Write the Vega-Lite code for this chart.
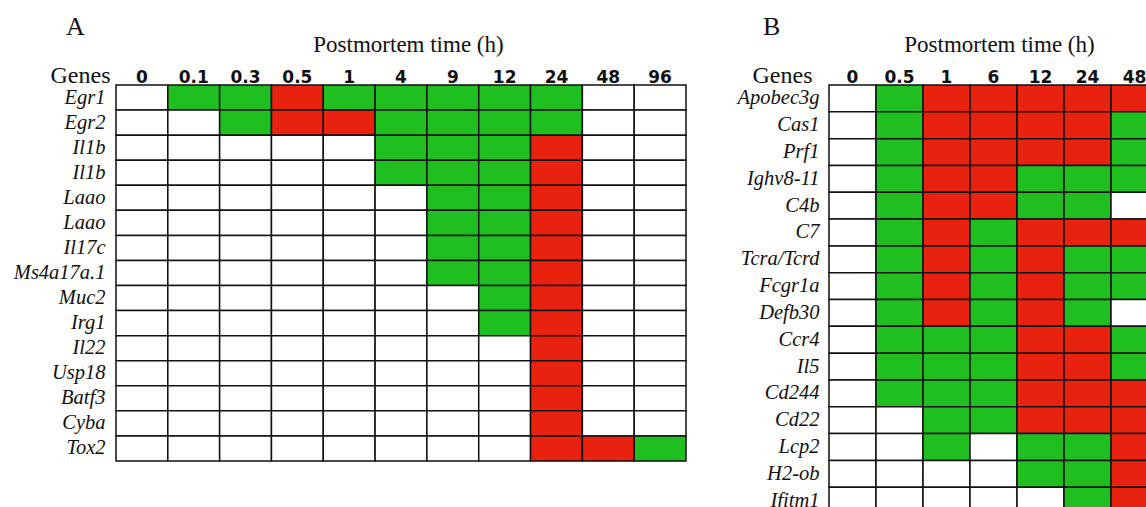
{
  "$schema": "https://vega.github.io/schema/vega-lite/v6.json",
  "background": "white",
  "padding": {"left": 13, "top": 14, "right": 0, "bottom": 0},
  "spacing": 143,
  "bounds": "flush",
  "config": {
    "view": {"stroke": null},
    "rect": {"stroke": "#111111", "strokeWidth": 1.5},
    "title": {"font": "Liberation Serif", "fontSize": 26, "fontWeight": "normal", "color": "#111111", "anchor": "start", "frame": "group", "offset": -7},
    "axis": {
      "domain": false,
      "ticks": false,
      "grid": false,
      "labelColor": "#111111",
      "titleColor": "#111111"
    },
    "axisX": {
      "orient": "top",
      "labelAngle": 0,
      "labelFont": "DejaVu Sans",
      "labelFontWeight": "bold",
      "labelFontSize": 17,
      "labelBaseline": "alphabetic",
      "labelPadding": 3,
      "titleFont": "Liberation Serif",
      "titleFontSize": 23,
      "titleFontWeight": "normal",
      "titlePadding": 12
    },
    "axisY": {
      "labelFont": "Liberation Serif",
      "labelFontStyle": "italic",
      "labelFontSize": 20.5,
      "labelPadding": 11,
      "labelExpr": "split(datum.value, '#')[0]",
      "titleFont": "Liberation Serif",
      "titleFontSize": 24,
      "titleFontWeight": "normal",
      "titleAngle": 0,
      "titleAlign": "right",
      "titleBaseline": "alphabetic",
      "titleY": -3
    }
  },
  "datasets": {
    "panelA": [
      {"gene": "Egr1", "time": "0", "level": 0}, {"gene": "Egr1", "time": "0.1", "level": 1}, {"gene": "Egr1", "time": "0.3", "level": 1}, {"gene": "Egr1", "time": "0.5", "level": 2}, {"gene": "Egr1", "time": "1", "level": 1}, {"gene": "Egr1", "time": "4", "level": 1}, {"gene": "Egr1", "time": "9", "level": 1}, {"gene": "Egr1", "time": "12", "level": 1}, {"gene": "Egr1", "time": "24", "level": 1}, {"gene": "Egr1", "time": "48", "level": 0}, {"gene": "Egr1", "time": "96", "level": 0},
      {"gene": "Egr2", "time": "0", "level": 0}, {"gene": "Egr2", "time": "0.1", "level": 0}, {"gene": "Egr2", "time": "0.3", "level": 1}, {"gene": "Egr2", "time": "0.5", "level": 2}, {"gene": "Egr2", "time": "1", "level": 2}, {"gene": "Egr2", "time": "4", "level": 1}, {"gene": "Egr2", "time": "9", "level": 1}, {"gene": "Egr2", "time": "12", "level": 1}, {"gene": "Egr2", "time": "24", "level": 1}, {"gene": "Egr2", "time": "48", "level": 0}, {"gene": "Egr2", "time": "96", "level": 0},
      {"gene": "Il1b", "time": "0", "level": 0}, {"gene": "Il1b", "time": "0.1", "level": 0}, {"gene": "Il1b", "time": "0.3", "level": 0}, {"gene": "Il1b", "time": "0.5", "level": 0}, {"gene": "Il1b", "time": "1", "level": 0}, {"gene": "Il1b", "time": "4", "level": 1}, {"gene": "Il1b", "time": "9", "level": 1}, {"gene": "Il1b", "time": "12", "level": 1}, {"gene": "Il1b", "time": "24", "level": 2}, {"gene": "Il1b", "time": "48", "level": 0}, {"gene": "Il1b", "time": "96", "level": 0},
      {"gene": "Il1b#2", "time": "0", "level": 0}, {"gene": "Il1b#2", "time": "0.1", "level": 0}, {"gene": "Il1b#2", "time": "0.3", "level": 0}, {"gene": "Il1b#2", "time": "0.5", "level": 0}, {"gene": "Il1b#2", "time": "1", "level": 0}, {"gene": "Il1b#2", "time": "4", "level": 1}, {"gene": "Il1b#2", "time": "9", "level": 1}, {"gene": "Il1b#2", "time": "12", "level": 1}, {"gene": "Il1b#2", "time": "24", "level": 2}, {"gene": "Il1b#2", "time": "48", "level": 0}, {"gene": "Il1b#2", "time": "96", "level": 0},
      {"gene": "Laao", "time": "0", "level": 0}, {"gene": "Laao", "time": "0.1", "level": 0}, {"gene": "Laao", "time": "0.3", "level": 0}, {"gene": "Laao", "time": "0.5", "level": 0}, {"gene": "Laao", "time": "1", "level": 0}, {"gene": "Laao", "time": "4", "level": 0}, {"gene": "Laao", "time": "9", "level": 1}, {"gene": "Laao", "time": "12", "level": 1}, {"gene": "Laao", "time": "24", "level": 2}, {"gene": "Laao", "time": "48", "level": 0}, {"gene": "Laao", "time": "96", "level": 0},
      {"gene": "Laao#2", "time": "0", "level": 0}, {"gene": "Laao#2", "time": "0.1", "level": 0}, {"gene": "Laao#2", "time": "0.3", "level": 0}, {"gene": "Laao#2", "time": "0.5", "level": 0}, {"gene": "Laao#2", "time": "1", "level": 0}, {"gene": "Laao#2", "time": "4", "level": 0}, {"gene": "Laao#2", "time": "9", "level": 1}, {"gene": "Laao#2", "time": "12", "level": 1}, {"gene": "Laao#2", "time": "24", "level": 2}, {"gene": "Laao#2", "time": "48", "level": 0}, {"gene": "Laao#2", "time": "96", "level": 0},
      {"gene": "Il17c", "time": "0", "level": 0}, {"gene": "Il17c", "time": "0.1", "level": 0}, {"gene": "Il17c", "time": "0.3", "level": 0}, {"gene": "Il17c", "time": "0.5", "level": 0}, {"gene": "Il17c", "time": "1", "level": 0}, {"gene": "Il17c", "time": "4", "level": 0}, {"gene": "Il17c", "time": "9", "level": 1}, {"gene": "Il17c", "time": "12", "level": 1}, {"gene": "Il17c", "time": "24", "level": 2}, {"gene": "Il17c", "time": "48", "level": 0}, {"gene": "Il17c", "time": "96", "level": 0},
      {"gene": "Ms4a17a.1", "time": "0", "level": 0}, {"gene": "Ms4a17a.1", "time": "0.1", "level": 0}, {"gene": "Ms4a17a.1", "time": "0.3", "level": 0}, {"gene": "Ms4a17a.1", "time": "0.5", "level": 0}, {"gene": "Ms4a17a.1", "time": "1", "level": 0}, {"gene": "Ms4a17a.1", "time": "4", "level": 0}, {"gene": "Ms4a17a.1", "time": "9", "level": 1}, {"gene": "Ms4a17a.1", "time": "12", "level": 1}, {"gene": "Ms4a17a.1", "time": "24", "level": 2}, {"gene": "Ms4a17a.1", "time": "48", "level": 0}, {"gene": "Ms4a17a.1", "time": "96", "level": 0},
      {"gene": "Muc2", "time": "0", "level": 0}, {"gene": "Muc2", "time": "0.1", "level": 0}, {"gene": "Muc2", "time": "0.3", "level": 0}, {"gene": "Muc2", "time": "0.5", "level": 0}, {"gene": "Muc2", "time": "1", "level": 0}, {"gene": "Muc2", "time": "4", "level": 0}, {"gene": "Muc2", "time": "9", "level": 0}, {"gene": "Muc2", "time": "12", "level": 1}, {"gene": "Muc2", "time": "24", "level": 2}, {"gene": "Muc2", "time": "48", "level": 0}, {"gene": "Muc2", "time": "96", "level": 0},
      {"gene": "Irg1", "time": "0", "level": 0}, {"gene": "Irg1", "time": "0.1", "level": 0}, {"gene": "Irg1", "time": "0.3", "level": 0}, {"gene": "Irg1", "time": "0.5", "level": 0}, {"gene": "Irg1", "time": "1", "level": 0}, {"gene": "Irg1", "time": "4", "level": 0}, {"gene": "Irg1", "time": "9", "level": 0}, {"gene": "Irg1", "time": "12", "level": 1}, {"gene": "Irg1", "time": "24", "level": 2}, {"gene": "Irg1", "time": "48", "level": 0}, {"gene": "Irg1", "time": "96", "level": 0},
      {"gene": "Il22", "time": "0", "level": 0}, {"gene": "Il22", "time": "0.1", "level": 0}, {"gene": "Il22", "time": "0.3", "level": 0}, {"gene": "Il22", "time": "0.5", "level": 0}, {"gene": "Il22", "time": "1", "level": 0}, {"gene": "Il22", "time": "4", "level": 0}, {"gene": "Il22", "time": "9", "level": 0}, {"gene": "Il22", "time": "12", "level": 0}, {"gene": "Il22", "time": "24", "level": 2}, {"gene": "Il22", "time": "48", "level": 0}, {"gene": "Il22", "time": "96", "level": 0},
      {"gene": "Usp18", "time": "0", "level": 0}, {"gene": "Usp18", "time": "0.1", "level": 0}, {"gene": "Usp18", "time": "0.3", "level": 0}, {"gene": "Usp18", "time": "0.5", "level": 0}, {"gene": "Usp18", "time": "1", "level": 0}, {"gene": "Usp18", "time": "4", "level": 0}, {"gene": "Usp18", "time": "9", "level": 0}, {"gene": "Usp18", "time": "12", "level": 0}, {"gene": "Usp18", "time": "24", "level": 2}, {"gene": "Usp18", "time": "48", "level": 0}, {"gene": "Usp18", "time": "96", "level": 0},
      {"gene": "Batf3", "time": "0", "level": 0}, {"gene": "Batf3", "time": "0.1", "level": 0}, {"gene": "Batf3", "time": "0.3", "level": 0}, {"gene": "Batf3", "time": "0.5", "level": 0}, {"gene": "Batf3", "time": "1", "level": 0}, {"gene": "Batf3", "time": "4", "level": 0}, {"gene": "Batf3", "time": "9", "level": 0}, {"gene": "Batf3", "time": "12", "level": 0}, {"gene": "Batf3", "time": "24", "level": 2}, {"gene": "Batf3", "time": "48", "level": 0}, {"gene": "Batf3", "time": "96", "level": 0},
      {"gene": "Cyba", "time": "0", "level": 0}, {"gene": "Cyba", "time": "0.1", "level": 0}, {"gene": "Cyba", "time": "0.3", "level": 0}, {"gene": "Cyba", "time": "0.5", "level": 0}, {"gene": "Cyba", "time": "1", "level": 0}, {"gene": "Cyba", "time": "4", "level": 0}, {"gene": "Cyba", "time": "9", "level": 0}, {"gene": "Cyba", "time": "12", "level": 0}, {"gene": "Cyba", "time": "24", "level": 2}, {"gene": "Cyba", "time": "48", "level": 0}, {"gene": "Cyba", "time": "96", "level": 0},
      {"gene": "Tox2", "time": "0", "level": 0}, {"gene": "Tox2", "time": "0.1", "level": 0}, {"gene": "Tox2", "time": "0.3", "level": 0}, {"gene": "Tox2", "time": "0.5", "level": 0}, {"gene": "Tox2", "time": "1", "level": 0}, {"gene": "Tox2", "time": "4", "level": 0}, {"gene": "Tox2", "time": "9", "level": 0}, {"gene": "Tox2", "time": "12", "level": 0}, {"gene": "Tox2", "time": "24", "level": 2}, {"gene": "Tox2", "time": "48", "level": 2}, {"gene": "Tox2", "time": "96", "level": 1}
    ],
    "panelB": [
      {"gene": "Apobec3g", "time": "0", "level": 0}, {"gene": "Apobec3g", "time": "0.5", "level": 1}, {"gene": "Apobec3g", "time": "1", "level": 2}, {"gene": "Apobec3g", "time": "6", "level": 2}, {"gene": "Apobec3g", "time": "12", "level": 2}, {"gene": "Apobec3g", "time": "24", "level": 2}, {"gene": "Apobec3g", "time": "48", "level": 2},
      {"gene": "Cas1", "time": "0", "level": 0}, {"gene": "Cas1", "time": "0.5", "level": 1}, {"gene": "Cas1", "time": "1", "level": 2}, {"gene": "Cas1", "time": "6", "level": 2}, {"gene": "Cas1", "time": "12", "level": 2}, {"gene": "Cas1", "time": "24", "level": 2}, {"gene": "Cas1", "time": "48", "level": 1},
      {"gene": "Prf1", "time": "0", "level": 0}, {"gene": "Prf1", "time": "0.5", "level": 1}, {"gene": "Prf1", "time": "1", "level": 2}, {"gene": "Prf1", "time": "6", "level": 2}, {"gene": "Prf1", "time": "12", "level": 2}, {"gene": "Prf1", "time": "24", "level": 2}, {"gene": "Prf1", "time": "48", "level": 1},
      {"gene": "Ighv8-11", "time": "0", "level": 0}, {"gene": "Ighv8-11", "time": "0.5", "level": 1}, {"gene": "Ighv8-11", "time": "1", "level": 2}, {"gene": "Ighv8-11", "time": "6", "level": 2}, {"gene": "Ighv8-11", "time": "12", "level": 1}, {"gene": "Ighv8-11", "time": "24", "level": 1}, {"gene": "Ighv8-11", "time": "48", "level": 1},
      {"gene": "C4b", "time": "0", "level": 0}, {"gene": "C4b", "time": "0.5", "level": 1}, {"gene": "C4b", "time": "1", "level": 2}, {"gene": "C4b", "time": "6", "level": 2}, {"gene": "C4b", "time": "12", "level": 1}, {"gene": "C4b", "time": "24", "level": 1}, {"gene": "C4b", "time": "48", "level": 0},
      {"gene": "C7", "time": "0", "level": 0}, {"gene": "C7", "time": "0.5", "level": 1}, {"gene": "C7", "time": "1", "level": 2}, {"gene": "C7", "time": "6", "level": 1}, {"gene": "C7", "time": "12", "level": 2}, {"gene": "C7", "time": "24", "level": 2}, {"gene": "C7", "time": "48", "level": 2},
      {"gene": "Tcra/Tcrd", "time": "0", "level": 0}, {"gene": "Tcra/Tcrd", "time": "0.5", "level": 1}, {"gene": "Tcra/Tcrd", "time": "1", "level": 2}, {"gene": "Tcra/Tcrd", "time": "6", "level": 1}, {"gene": "Tcra/Tcrd", "time": "12", "level": 2}, {"gene": "Tcra/Tcrd", "time": "24", "level": 1}, {"gene": "Tcra/Tcrd", "time": "48", "level": 1},
      {"gene": "Fcgr1a", "time": "0", "level": 0}, {"gene": "Fcgr1a", "time": "0.5", "level": 1}, {"gene": "Fcgr1a", "time": "1", "level": 2}, {"gene": "Fcgr1a", "time": "6", "level": 1}, {"gene": "Fcgr1a", "time": "12", "level": 2}, {"gene": "Fcgr1a", "time": "24", "level": 1}, {"gene": "Fcgr1a", "time": "48", "level": 1},
      {"gene": "Defb30", "time": "0", "level": 0}, {"gene": "Defb30", "time": "0.5", "level": 1}, {"gene": "Defb30", "time": "1", "level": 2}, {"gene": "Defb30", "time": "6", "level": 1}, {"gene": "Defb30", "time": "12", "level": 2}, {"gene": "Defb30", "time": "24", "level": 1}, {"gene": "Defb30", "time": "48", "level": 0},
      {"gene": "Ccr4", "time": "0", "level": 0}, {"gene": "Ccr4", "time": "0.5", "level": 1}, {"gene": "Ccr4", "time": "1", "level": 1}, {"gene": "Ccr4", "time": "6", "level": 1}, {"gene": "Ccr4", "time": "12", "level": 2}, {"gene": "Ccr4", "time": "24", "level": 2}, {"gene": "Ccr4", "time": "48", "level": 1},
      {"gene": "Il5", "time": "0", "level": 0}, {"gene": "Il5", "time": "0.5", "level": 1}, {"gene": "Il5", "time": "1", "level": 1}, {"gene": "Il5", "time": "6", "level": 1}, {"gene": "Il5", "time": "12", "level": 2}, {"gene": "Il5", "time": "24", "level": 2}, {"gene": "Il5", "time": "48", "level": 1},
      {"gene": "Cd244", "time": "0", "level": 0}, {"gene": "Cd244", "time": "0.5", "level": 1}, {"gene": "Cd244", "time": "1", "level": 1}, {"gene": "Cd244", "time": "6", "level": 1}, {"gene": "Cd244", "time": "12", "level": 2}, {"gene": "Cd244", "time": "24", "level": 2}, {"gene": "Cd244", "time": "48", "level": 2},
      {"gene": "Cd22", "time": "0", "level": 0}, {"gene": "Cd22", "time": "0.5", "level": 0}, {"gene": "Cd22", "time": "1", "level": 1}, {"gene": "Cd22", "time": "6", "level": 1}, {"gene": "Cd22", "time": "12", "level": 2}, {"gene": "Cd22", "time": "24", "level": 2}, {"gene": "Cd22", "time": "48", "level": 2},
      {"gene": "Lcp2", "time": "0", "level": 0}, {"gene": "Lcp2", "time": "0.5", "level": 0}, {"gene": "Lcp2", "time": "1", "level": 1}, {"gene": "Lcp2", "time": "6", "level": 0}, {"gene": "Lcp2", "time": "12", "level": 1}, {"gene": "Lcp2", "time": "24", "level": 1}, {"gene": "Lcp2", "time": "48", "level": 2},
      {"gene": "H2-ob", "time": "0", "level": 0}, {"gene": "H2-ob", "time": "0.5", "level": 0}, {"gene": "H2-ob", "time": "1", "level": 0}, {"gene": "H2-ob", "time": "6", "level": 0}, {"gene": "H2-ob", "time": "12", "level": 1}, {"gene": "H2-ob", "time": "24", "level": 1}, {"gene": "H2-ob", "time": "48", "level": 2},
      {"gene": "Ifitm1", "time": "0", "level": 0}, {"gene": "Ifitm1", "time": "0.5", "level": 0}, {"gene": "Ifitm1", "time": "1", "level": 0}, {"gene": "Ifitm1", "time": "6", "level": 0}, {"gene": "Ifitm1", "time": "12", "level": 0}, {"gene": "Ifitm1", "time": "24", "level": 1}, {"gene": "Ifitm1", "time": "48", "level": 2}
    ]
  },
  "hconcat": [
    {
      "title": {"text": "A", "dx": -50},
      "data": {"name": "panelA"},
      "width": 570,
      "height": 376,
      "mark": {"type": "rect"},
      "encoding": {
        "x": {
          "field": "time", "type": "ordinal",
          "sort": ["0", "0.1", "0.3", "0.5", "1", "4", "9", "12", "24", "48", "96"],
          "scale": {"paddingInner": 0, "paddingOuter": 0},
          "axis": {"title": "Postmortem time (h)", "titleX": 292}
        },
        "y": {
          "field": "gene", "type": "ordinal",
          "sort": ["Egr1", "Egr2", "Il1b", "Il1b#2", "Laao", "Laao#2", "Il17c", "Ms4a17a.1", "Muc2", "Irg1", "Il22", "Usp18", "Batf3", "Cyba", "Tox2"],
          "scale": {"paddingInner": 0, "paddingOuter": 0},
          "axis": {"title": "Genes", "titleX": -6}
        },
        "fill": {
          "field": "level", "type": "nominal",
          "scale": {"domain": [0, 1, 2], "range": ["#ffffff", "#1fbf1f", "#e8220e"]},
          "legend": null
        }
      }
    },
    {
      "title": {"text": "B", "dx": -66},
      "data": {"name": "panelB"},
      "width": 329,
      "height": 429,
      "mark": {"type": "rect"},
      "encoding": {
        "x": {
          "field": "time", "type": "ordinal",
          "sort": ["0", "0.5", "1", "6", "12", "24", "48"],
          "scale": {"paddingInner": 0, "paddingOuter": 0},
          "axis": {"title": "Postmortem time (h)", "titleX": 170}
        },
        "y": {
          "field": "gene", "type": "ordinal",
          "sort": ["Apobec3g", "Cas1", "Prf1", "Ighv8-11", "C4b", "C7", "Tcra/Tcrd", "Fcgr1a", "Defb30", "Ccr4", "Il5", "Cd244", "Cd22", "Lcp2", "H2-ob", "Ifitm1"],
          "scale": {"paddingInner": 0, "paddingOuter": 0},
          "axis": {"title": "Genes", "titleX": -17, "labelPadding": 10}
        },
        "fill": {
          "field": "level", "type": "nominal",
          "scale": {"domain": [0, 1, 2], "range": ["#ffffff", "#1fbf1f", "#e8220e"]},
          "legend": null
        }
      }
    }
  ]
}
